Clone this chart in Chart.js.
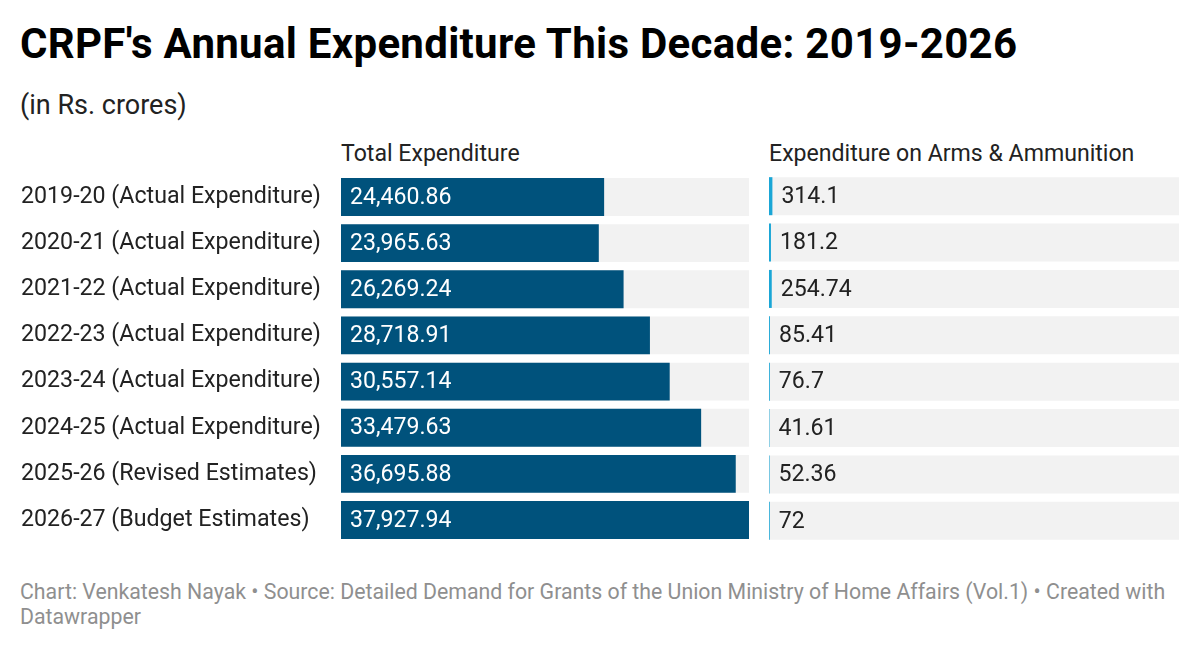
<!DOCTYPE html>
<html lang="en">
<head>
<meta charset="UTF-8">
<title>CRPF's Annual Expenditure This Decade: 2019-2026</title>
<script src="https://cdn.jsdelivr.net/npm/chart.js"></script>
<style>
  html, body { margin: 0; padding: 0; background: #fff; }
  body { width: 1200px; height: 648px; position: relative; font-family: Roboto, sans-serif; color: #333; overflow: hidden; }
  h1 { position: absolute; left: 20px; top: 19px; margin: 0; font-size: 42px; line-height: 49px; font-weight: 700; color: #000; letter-spacing: 0.3px; white-space: nowrap; }
  .sub { position: absolute; left: 20px; top: 90px; font-size: 27px; line-height: 31px; color: #222; }
  .head { position: absolute; top: 140px; font-size: 23.1px; line-height: 27px; color: #222; white-space: nowrap; }
  .foot { position: absolute; left: 20px; top: 579px; width: 1160px; font-size: 21.3px; line-height: 25px; color: #8f8f8f; }
  canvas { position: absolute; top: 0; }
</style>
</head>
<body>
<h1>CRPF's Annual Expenditure This Decade: 2019-2026</h1>
<div class="sub">(in Rs. crores)</div>
<div class="head" style="left:341px">Total Expenditure</div>
<div class="head" style="left:769px">Expenditure on Arms &amp; Ammunition</div>
<div id="left" style="position:absolute;left:0;top:157px;width:749px;height:403px"><canvas id="totalChart"></canvas></div>
<div id="right" style="position:absolute;left:759px;top:157px;width:420px;height:403px"><canvas id="armsChart"></canvas></div>
<div class="foot">Chart: Venkatesh Nayak • Source: Detailed Demand for Grants of the Union Ministry of Home Affairs (Vol.1) • Created with Datawrapper</div>

<script>
const years = [
  '2019-20 (Actual Expenditure)',
  '2020-21 (Actual Expenditure)',
  '2021-22 (Actual Expenditure)',
  '2022-23 (Actual Expenditure)',
  '2023-24 (Actual Expenditure)',
  '2024-25 (Actual Expenditure)',
  '2025-26 (Revised Estimates)',
  '2026-27 (Budget Estimates)'
];
const totalExpenditure = [24460.86, 23965.63, 26269.24, 28718.91, 30557.14, 33479.63, 36695.88, 37927.94];
const armsExpenditure = [314.1, 181.2, 254.74, 85.41, 76.7, 41.61, 52.36, 72];

// both panels share one scale, like the original
const maxValue = Math.max(...totalExpenditure);

const fmt = v => v.toLocaleString('en-US', { maximumFractionDigits: 2, minimumFractionDigits: 0 });

// writes the value on each bar
const valueLabels = {
  id: 'valueLabels',
  afterDatasetsDraw(chart, args, opts) {
    const ctx = chart.ctx;
    const idx = chart.data.datasets.findIndex(d => d.isValue);
    const meta = chart.getDatasetMeta(idx);
    ctx.save();
    ctx.font = '23.1px Roboto';
    ctx.textBaseline = 'middle';
    ctx.fillStyle = opts.color;
    meta.data.forEach((bar, i) => {
      const v = chart.data.datasets[idx].data[i];
      const x = opts.inside ? bar.base + 9 : bar.x + 9;
      ctx.fillText(fmt(v), x, bar.y + 1);
    });
    ctx.restore();
  }
};

const chart = (element, values, barColor, showLabels, labelOpts) => {
  const ctx = document.getElementById(element).getContext('2d');
  return new Chart(ctx, {
    type: 'bar',
    data: {
      labels: years,
      datasets: [{
        isValue: true,
        data: values,
        backgroundColor: barColor,
        order: 1
      }, {
        data: years.map(() => maxValue),
        backgroundColor: '#f2f2f2',
        order: 2
      }]
    },
    options: {
      indexAxis: 'y',
      responsive: true,
      maintainAspectRatio: false,
      animation: false,
      layout: { padding: { left: showLabels ? 21 : 10, top: 16, bottom: 16, right: 0 } },
      datasets: { bar: { grouped: false, barPercentage: 0.82, categoryPercentage: 1 } },
      scales: {
        x: { display: false, min: 0, max: maxValue },
        y: {
          display: showLabels,
          grid: { display: false },
          border: { display: false },
          ticks: { crossAlign: 'far', color: '#222', font: { family: 'Roboto', size: 23.2 } },
          afterFit: s => { if (showLabels) s.width = 320; }
        }
      },
      plugins: {
        legend: { display: false },
        tooltip: { enabled: false },
        valueLabels: labelOpts
      }
    },
    plugins: [valueLabels]
  });
};

chart('totalChart', totalExpenditure, '#00527c', true, { color: '#fff', inside: true });
chart('armsChart', armsExpenditure, '#1aa6d6', false, { color: '#222', inside: false });
</script>
</body>
</html>
